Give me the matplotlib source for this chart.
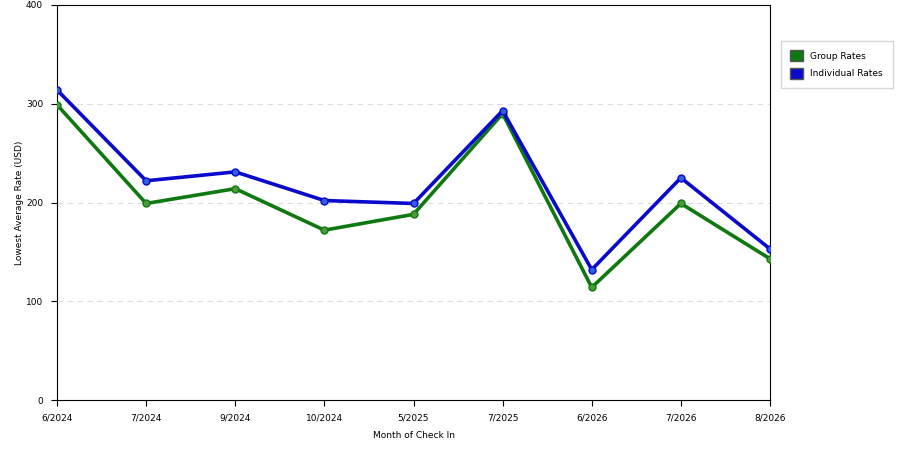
import matplotlib
matplotlib.use("Agg")
import matplotlib.pyplot as plt
from matplotlib.patches import Patch

# values
months = ["6/2024", "7/2024", "9/2024", "10/2024", "5/2025",
          "7/2025", "6/2026", "7/2026", "8/2026"]
group_rates = [299, 199, 214, 172, 188, 290, 114, 199, 143]
individual_rates = [314, 222, 231, 202, 199, 293, 132, 225, 153]

green = "#107810"
blue = "#0a0acc"

fig = plt.figure(figsize=(9, 4.5), dpi=100)
ax = fig.add_axes([57 / 900, 50 / 450, 713 / 900, 395 / 450])

x = list(range(len(months)))
ax.plot(x, group_rates, color=green, lw=2.6, marker="o", ms=5,
        markerfacecolor="#4d9a3a", markeredgecolor=green, zorder=3)
ax.plot(x, individual_rates, color=blue, lw=2.6, marker="o", ms=5,
        markerfacecolor="#2f5fe0", markeredgecolor=blue, zorder=4)

ax.set_xlim(0, len(months) - 1)
ax.set_ylim(0, 400)
ax.set_xticks(x)
ax.set_xticklabels(months)
ax.set_yticks([0, 100, 200, 300, 400])
ax.tick_params(labelsize=6.5, direction="out", length=4, width=0.8, pad=6)
ax.yaxis.grid(True, color="#dddddd", ls=(0, (5, 4)), lw=0.8)
ax.set_axisbelow(True)
for s in ax.spines.values():
    s.set_linewidth(0.8)

ax.set_xlabel("Month of Check In", fontsize=6.5, labelpad=6)
ax.set_ylabel("Lowest Average Rate (USD)", fontsize=6.5, labelpad=1)

handles = [Patch(facecolor=green, edgecolor="#555555", label="Group Rates"),
           Patch(facecolor=blue, edgecolor="#555555", label="Individual Rates")]
fig.legend(handles=handles, loc="upper left", bbox_to_anchor=(776 / 900, 1 - 36 / 450),
           fontsize=6.5, frameon=True, fancybox=False, edgecolor="#cccccc",
           handlelength=1.4, handleheight=1.4, borderpad=1.1, labelspacing=0.8,
           handletextpad=0.8)

fig.savefig("out.png", dpi=100)
